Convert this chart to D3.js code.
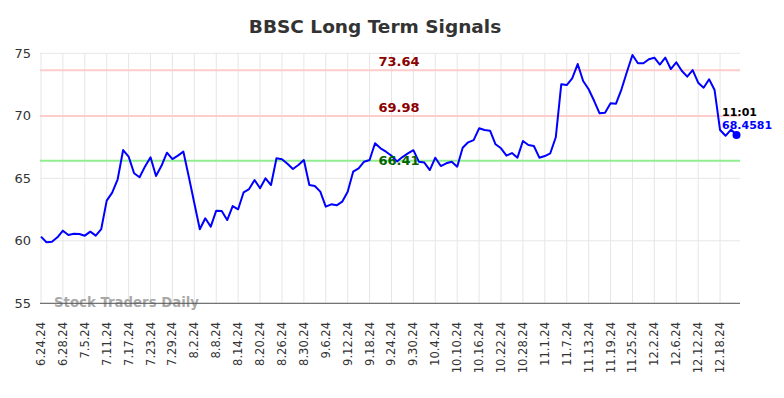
<!DOCTYPE html>
<html>
<head>
<meta charset="utf-8">
<script src="https://cdn.jsdelivr.net/npm/d3@7"></script>
<style>
  html, body { margin: 0; padding: 0; background: #fff; }
  svg { display: block; font-family: "DejaVu Sans", sans-serif; }
</style>
</head>
<body>
<svg id="chart" width="784" height="398"></svg>
<script>
const dates = [
  "6.24.24","6.25.24","6.26.24","6.27.24","6.28.24",
  "7.1.24","7.2.24","7.3.24","7.5.24","7.8.24","7.9.24","7.10.24","7.11.24","7.12.24","7.15.24","7.16.24","7.17.24","7.18.24","7.19.24","7.22.24","7.23.24","7.24.24","7.25.24","7.26.24","7.29.24","7.30.24","7.31.24",
  "8.1.24","8.2.24","8.5.24","8.6.24","8.7.24","8.8.24","8.9.24","8.12.24","8.13.24","8.14.24","8.15.24","8.16.24","8.19.24","8.20.24","8.21.24","8.22.24","8.23.24","8.26.24","8.27.24","8.28.24","8.29.24","8.30.24",
  "9.3.24","9.4.24","9.5.24","9.6.24","9.9.24","9.10.24","9.11.24","9.12.24","9.13.24","9.16.24","9.17.24","9.18.24","9.19.24","9.20.24","9.23.24","9.24.24","9.25.24","9.26.24","9.27.24","9.30.24",
  "10.1.24","10.2.24","10.3.24","10.4.24","10.7.24","10.8.24","10.9.24","10.10.24","10.11.24","10.14.24","10.15.24","10.16.24","10.17.24","10.18.24","10.21.24","10.22.24","10.23.24","10.24.24","10.25.24","10.28.24","10.29.24","10.30.24","10.31.24",
  "11.1.24","11.4.24","11.5.24","11.6.24","11.7.24","11.8.24","11.11.24","11.12.24","11.13.24","11.14.24","11.15.24","11.18.24","11.19.24","11.20.24","11.21.24","11.22.24","11.25.24","11.26.24","11.27.24","11.29.24",
  "12.2.24","12.3.24","12.4.24","12.5.24","12.6.24","12.9.24","12.10.24","12.11.24","12.12.24","12.13.24","12.16.24","12.17.24","12.18.24","12.19.24","12.20.24","12.23.24"
];
const values = [
  60.33,59.88,59.93,60.28,60.81,
  60.46,60.57,60.55,60.41,60.73,60.41,60.94,63.21,63.85,64.92,67.26,66.73,65.40,65.08,65.95,66.68,65.18,66.00,67.05,66.54,66.81,67.13,
  65.10,63.00,60.92,61.80,61.13,62.41,62.39,61.66,62.78,62.52,63.88,64.14,64.86,64.20,65.00,64.46,66.60,66.52,66.17,65.74,66.06,66.46,
  64.46,64.38,63.93,62.73,62.92,62.84,63.13,63.93,65.53,65.80,66.33,66.46,67.80,67.40,67.13,66.80,66.35,66.70,67.00,67.25,
  66.33,66.26,65.66,66.65,65.98,66.20,66.33,65.93,67.45,67.88,68.06,69.00,68.86,68.81,67.72,67.40,66.81,67.02,66.65,67.98,67.66,67.58,66.65,
  66.78,67.00,68.28,72.52,72.46,73.00,74.14,72.78,72.12,71.20,70.20,70.25,71.00,70.97,72.12,73.53,74.86,74.20,74.20,74.52,
  74.65,74.10,74.65,73.74,74.28,73.60,73.13,73.66,72.65,72.25,72.92,72.06,68.86,68.40,68.90,68.4581
];
const tickLabels = ["6.24.24","6.28.24","7.5.24","7.11.24","7.17.24","7.23.24","7.29.24","8.2.24","8.8.24","8.14.24","8.20.24","8.26.24","8.30.24","9.6.24","9.12.24","9.18.24","9.24.24","9.30.24","10.4.24","10.10.24","10.16.24","10.22.24","10.28.24","11.1.24","11.7.24","11.13.24","11.19.24","11.25.24","12.2.24","12.6.24","12.12.24","12.18.24"];
const yTicks = [55, 60, 65, 70, 75];
const levels = [
  { value: 73.64, label: "73.64", kind: "res" },
  { value: 69.98, label: "69.98", kind: "res" },
  { value: 66.41, label: "66.41", kind: "sup" }
];
const title = "BBSC Long Term Signals";
const lastTime = "11:01";
const lastLabel = "68.4581";

const svg = d3.select("#chart");
const L = 40, R = 740, T = 53.3, B = 303.3;

const x = d3.scaleLinear().domain([0, dates.length - 1]).range([41, 736.5]);
const y = d3.scaleLinear().domain([55, 75]).range([B, T]);

// title
svg.append("text").attr("x", 375).attr("y", 33).attr("text-anchor", "middle")
  .attr("font-size", 18.5).attr("font-weight", "bold").attr("fill", "#333").text(title);

// grid
const tickIdx = tickLabels.map(t => dates.indexOf(t));
svg.append("g").selectAll("line").data(yTicks).join("line")
  .attr("x1", L).attr("x2", R).attr("y1", d => y(d)).attr("y2", d => y(d))
  .attr("stroke", "#e6e6e6").attr("stroke-width", 1);
svg.append("g").selectAll("line").data(tickIdx).join("line")
  .attr("x1", d => x(d)).attr("x2", d => x(d)).attr("y1", T).attr("y2", B)
  .attr("stroke", "#e6e6e6").attr("stroke-width", 1);

// y axis labels
svg.append("g").selectAll("text").data(yTicks).join("text")
  .attr("x", 31).attr("y", d => y(d) + 4.5).attr("text-anchor", "end")
  .attr("font-size", 13).attr("fill", "#333").text(d => d);

// level lines
svg.append("g").selectAll("line").data(levels).join("line")
  .attr("x1", L).attr("x2", R).attr("y1", d => y(d.value)).attr("y2", d => y(d.value))
  .attr("stroke", d => d.kind === "res" ? "#ffcccc" : "#90ee90").attr("stroke-width", 2);

// watermark
svg.append("text").attr("x", 54).attr("y", 307).attr("font-size", 13.3).attr("font-weight", "bold")
  .attr("fill", "#999").attr("fill-opacity", 0.85).text("Stock Traders Daily");

// bottom axis line
svg.append("line").attr("x1", L).attr("x2", R).attr("y1", B).attr("y2", B)
  .attr("stroke", "#555").attr("stroke-width", 1);

// x tick labels
svg.append("g").selectAll("text").data(tickIdx).join("text")
  .attr("transform", d => `translate(${x(d) + 4},${322}) rotate(-90)`)
  .attr("text-anchor", "end").attr("font-size", 11.5).attr("fill", "#333")
  .text(d => dates[d]);

// price line
const line = d3.line().x((d, i) => x(i)).y(d => y(d));
svg.append("path").datum(values).attr("d", line)
  .attr("fill", "none").attr("stroke", "#0000ff").attr("stroke-width", 2).attr("stroke-linejoin", "round");

// level labels
svg.append("g").selectAll("text").data(levels).join("text")
  .attr("x", 399).attr("y", d => d.kind === "res" ? y(d.value) - 4 : y(d.value) + 4)
  .attr("text-anchor", "middle").attr("font-size", 13).attr("font-weight", "bold")
  .attr("fill", d => d.kind === "res" ? "#8b0000" : "#006400").text(d => d.label);

// last point
const li = values.length - 1;
svg.append("circle").attr("cx", x(li)).attr("cy", y(values[li])).attr("r", 4).attr("fill", "#0000ff");
svg.append("text").attr("x", 722).attr("y", 116).attr("font-size", 11).attr("font-weight", "bold")
  .attr("fill", "#000").text(lastTime);
svg.append("text").attr("x", 722).attr("y", 128.5).attr("font-size", 11).attr("font-weight", "bold")
  .attr("fill", "#0000ff").text(lastLabel);
</script>
</body>
</html>
